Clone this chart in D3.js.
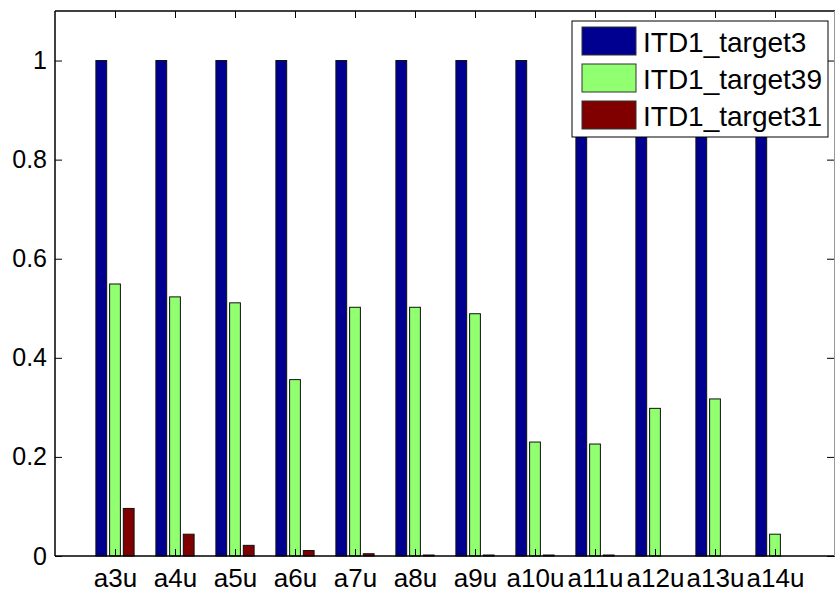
<!DOCTYPE html>
<html>
<head>
<meta charset="utf-8">
<script src="https://cdn.jsdelivr.net/npm/d3@7"></script>
<style>
  html, body { margin: 0; padding: 0; background: #fff; }
  svg { display: block; font-family: "Liberation Sans", Arial, Helvetica, sans-serif; }
</style>
</head>
<body>
<svg id="chart" width="835" height="592"></svg>
<script>
// Categories and series
const categories = ["a3u", "a4u", "a5u", "a6u", "a7u", "a8u", "a9u", "a10u", "a11u", "a12u", "a13u", "a14u"];
const seriesNames = ["ITD1_target3", "ITD1_target39", "ITD1_target31"];
const target3  = [1, 1, 1, 1, 1, 1, 1, 1, 1, 1, 1, 1];
const target39 = [0.549, 0.523, 0.511, 0.356, 0.502, 0.502, 0.489, 0.230, 0.226, 0.298, 0.317, 0.044];
const target31 = [0.096, 0.044, 0.0215, 0.011, 0.0046, 0.002, 0.002, 0.002, 0.002, 0, 0, 0];
const yTicks = [0, 0.2, 0.4, 0.6, 0.8, 1];
const seriesColors = ["#000090", "#90ff70", "#800000"];

const series = [target3, target39, target31];

const svg = d3.select("#chart");
const margin = { left: 55, top: 11, right: 834, bottom: 556 };

// x in category units (1..12), padded on both sides like a grouped bar plot
const x = d3.scaleLinear().domain([0, 13]).range([margin.left, 835]);
const y = d3.scaleLinear().domain([0, 1.1]).range([margin.bottom, margin.top]);

const groupOffsets = [-0.2285, 0, 0.2285];
const barW = 0.18;

// Bars
series.forEach((vals, s) => {
  svg.append("g").selectAll("rect")
    .data(vals)
    .join("rect")
    .attr("x", (d, i) => x(i + 1 + groupOffsets[s] - barW / 2))
    .attr("width", x(barW) - x(0))
    .attr("y", d => y(d))
    .attr("height", d => y(0) - y(d))
    .attr("fill", seriesColors[s])
    .attr("stroke", "#111")
    .attr("stroke-width", 1);
});

const catIdx = d3.range(1, categories.length + 1);

// Bottom axis with category labels
const xAxis = d3.axisBottom(x)
  .tickValues(catIdx)
  .tickFormat(i => categories[i - 1])
  .tickSize(-7)
  .tickPadding(13);
const gx = svg.append("g").attr("transform", `translate(0,${margin.bottom})`).call(xAxis);
gx.select(".domain").remove();
gx.attr("font-size", 26);
gx.selectAll("text")
  .attr("font-size", 26)
  .style("font-size", "26px")
  .attr("fill", "#000")
  .style("font-family", "'Liberation Sans', Arial, sans-serif");

// Top ticks
const gxTop = svg.append("g").attr("transform", `translate(0,${margin.top})`)
  .call(d3.axisTop(x).tickValues(catIdx).tickSize(-7).tickFormat(""));
gxTop.select(".domain").remove();

// Left axis
const yAxis = d3.axisLeft(y)
  .tickValues(yTicks)
  .tickFormat(d => d === 0 ? "0" : d === 1 ? "1" : d3.format(".1f")(d))
  .tickSize(-7)
  .tickPadding(8);
const gy = svg.append("g").attr("transform", `translate(${margin.left},0)`).call(yAxis);
gy.select(".domain").remove();
gy.selectAll("text")
  .attr("font-size", 25)
  .attr("fill", "#000")
  .style("font-family", "'Liberation Sans', Arial, sans-serif");

// Right ticks
const gyR = svg.append("g").attr("transform", `translate(${margin.right},0)`)
  .call(d3.axisRight(y).tickValues(yTicks).tickSize(-7).tickFormat(""));
gyR.select(".domain").remove();

svg.selectAll(".tick line").attr("stroke", "#000").attr("stroke-width", 1);

// Axes box
svg.append("line").attr("x1", margin.left).attr("x2", 835).attr("y1", margin.bottom).attr("y2", margin.bottom)
  .attr("stroke", "#000").attr("stroke-width", 1.5);
svg.append("line").attr("x1", margin.left).attr("x2", 835).attr("y1", margin.top).attr("y2", margin.top)
  .attr("stroke", "#000").attr("stroke-width", 1.5);
svg.append("line").attr("x1", margin.left).attr("x2", margin.left).attr("y1", margin.top).attr("y2", margin.bottom)
  .attr("stroke", "#000").attr("stroke-width", 1.5);
svg.append("line").attr("x1", margin.right + 0.5).attr("x2", margin.right + 0.5).attr("y1", margin.top).attr("y2", margin.bottom)
  .attr("stroke", "#999").attr("stroke-width", 1);

// Legend
const lg = svg.append("g").attr("transform", "translate(572,21)");
lg.append("rect").attr("x", 0).attr("y", 0).attr("width", 256).attr("height", 116)
  .attr("fill", "#fff").attr("stroke", "#000").attr("stroke-width", 1);
seriesNames.forEach((name, i) => {
  const row = lg.append("g").attr("transform", `translate(0,${6 + i * 37})`);
  row.append("rect").attr("x", 10).attr("y", 0).attr("width", 54).attr("height", 28)
    .attr("fill", seriesColors[i]).attr("stroke", "#333").attr("stroke-width", 1);
  row.append("text").attr("x", 71).attr("y", 25)
    .attr("font-size", 28).attr("fill", "#000")
    .text(name);
});
</script>
</body>
</html>
